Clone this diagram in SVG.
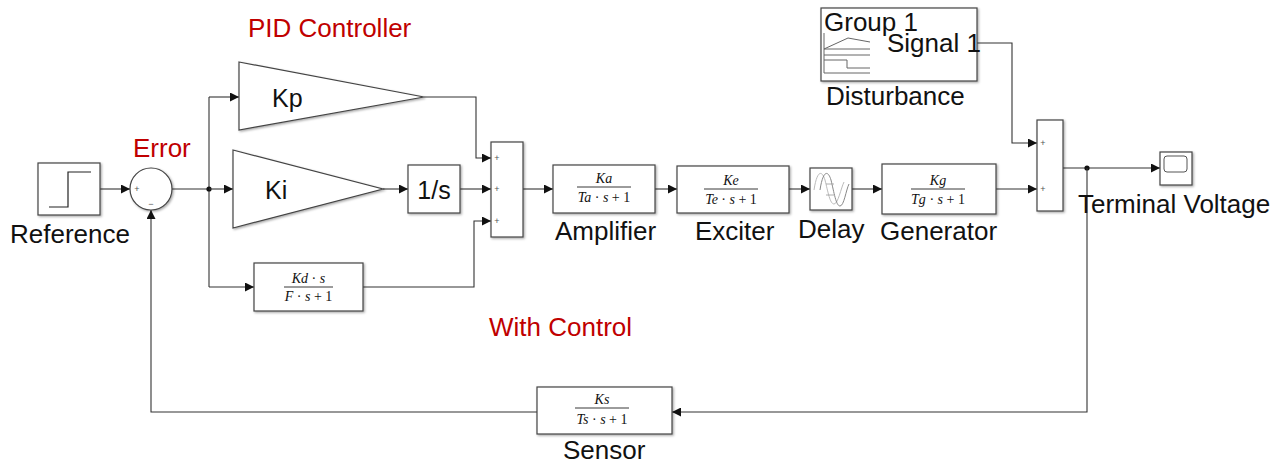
<svg xmlns="http://www.w3.org/2000/svg" width="1282" height="465" viewBox="0 0 1282 465">
<defs>
<marker id="ah" viewBox="0 0 10 10" refX="10" refY="5" markerWidth="9" markerHeight="9" markerUnits="userSpaceOnUse" orient="auto">
<path d="M0,0 L10,5 L0,10 z" fill="#111"/>
</marker>
<filter id="sh" x="-10%" y="-10%" width="130%" height="130%">
<feDropShadow dx="1.2" dy="1.2" stdDeviation="0.8" flood-color="#000" flood-opacity="0.35"/>
</filter>
<style>
.blk{fill:#fff;stroke:#444;stroke-width:1.2;filter:url(#sh)}
.wire{fill:none;stroke:#333;stroke-width:1.1}
.lbl{font-family:"Liberation Sans",Arial,sans-serif;font-size:26px;fill:#111}
.red{font-family:"Liberation Sans",Arial,sans-serif;font-size:26px;fill:#c00000}
.gain{font-family:"Liberation Sans",Arial,sans-serif;font-size:25px;fill:#111}
.frac{font-family:"Liberation Serif","Times New Roman",serif;font-size:14px;font-style:italic;fill:#111;text-anchor:middle}
.up{font-style:normal}
.fl{stroke:#222;stroke-width:0.9}
.sgn{font-family:"Liberation Sans",Arial,sans-serif;font-size:9px;fill:#555;text-anchor:middle}
.ic{fill:none;stroke:#666;stroke-width:1}
</style>
</defs>
<rect width="1282" height="465" fill="#fff"/>

<g id="connectors">
<path class="wire" d="M100,189 H130" marker-end="url(#ah)"/>
<path class="wire" d="M172,189 H209"/>
<path class="wire" d="M209,97 V287"/>
<circle cx="209" cy="189" r="2.6" fill="#111"/>
<path class="wire" d="M209,97 H239" marker-end="url(#ah)"/>
<path class="wire" d="M209,189 H233" marker-end="url(#ah)"/>
<path class="wire" d="M209,287 H254" marker-end="url(#ah)"/>
<path class="wire" d="M424,97 H476 V158 H491" marker-end="url(#ah)"/>
<path class="wire" d="M383,189 H408" marker-end="url(#ah)"/>
<path class="wire" d="M460,189 H491" marker-end="url(#ah)"/>
<path class="wire" d="M363,287 H474 V221 H491" marker-end="url(#ah)"/>
<path class="wire" d="M523,189 H553" marker-end="url(#ah)"/>
<path class="wire" d="M655,189 H677" marker-end="url(#ah)"/>
<path class="wire" d="M789,189 H810" marker-end="url(#ah)"/>
<path class="wire" d="M852,189 H882" marker-end="url(#ah)"/>
<path class="wire" d="M996,189 H1037" marker-end="url(#ah)"/>
<path class="wire" d="M977,43 H1012 V143 H1037" marker-end="url(#ah)"/>
<path class="wire" d="M1063,168 H1160" marker-end="url(#ah)"/>
<circle cx="1087" cy="168" r="2.6" fill="#111"/>
<path class="wire" d="M1087,168 V412 H672" marker-end="url(#ah)"/>
<path class="wire" d="M537,412 H151 V210" marker-end="url(#ah)"/>
</g>

<g id="reference">
<rect class="blk" x="38" y="163" width="62" height="52"/>
<path d="M49,207 H68 V172 H91" fill="none" stroke="#222" stroke-width="1.2"/>
<text class="lbl" x="10" y="243">Reference</text>
</g>

<g id="error-sum">
<circle class="blk" cx="151" cy="189" r="21"/>
<text class="sgn" x="137" y="192">+</text>
<text class="sgn" x="151" y="207">−</text>
<text class="red" x="133" y="157">Error</text>
</g>

<text class="red" x="248" y="37">PID Controller</text>

<g id="kp">
<polygon class="blk" points="239,62 424,97 239,130"/>
<text class="gain" x="272" y="107">Kp</text>
</g>

<g id="ki">
<polygon class="blk" points="233,150 383,189 233,228"/>
<text class="gain" x="265" y="199">Ki</text>
</g>

<g id="integrator">
<rect class="blk" x="408" y="165" width="52" height="48"/>
<text class="gain" x="434" y="199" text-anchor="middle">1/s</text>
</g>

<g id="kd">
<rect class="blk" x="254" y="263" width="109" height="48"/>
<text class="frac" x="308.5" y="283">Kd <tspan class="up">·</tspan> s</text>
<line class="fl" x1="284" y1="287" x2="333" y2="287"/>
<text class="frac" x="308.5" y="301">F <tspan class="up">·</tspan> s <tspan class="up">+ 1</tspan></text>
</g>

<g id="pid-sum">
<rect class="blk" x="491" y="142" width="32" height="95"/>
<text class="sgn" x="497" y="161">+</text>
<text class="sgn" x="497" y="192">+</text>
<text class="sgn" x="497" y="224">+</text>
</g>

<g id="amplifier">
<rect class="blk" x="553" y="165" width="102" height="48"/>
<text class="frac" x="604" y="183">Ka</text>
<line class="fl" x1="577" y1="187" x2="631" y2="187"/>
<text class="frac" x="604" y="202">Ta <tspan class="up">·</tspan> s <tspan class="up">+ 1</tspan></text>
<text class="lbl" x="555" y="240">Amplifier</text>
</g>

<g id="exciter">
<rect class="blk" x="677" y="166" width="112" height="47"/>
<text class="frac" x="731" y="185">Ke</text>
<line class="fl" x1="704" y1="189" x2="758" y2="189"/>
<text class="frac" x="731" y="204">Te <tspan class="up">·</tspan> s <tspan class="up">+ 1</tspan></text>
<text class="lbl" x="695" y="240">Exciter</text>
</g>

<g id="delay">
<rect class="blk" x="810" y="168" width="42" height="42"/>
<path d="M814,190 C817,170 822,170 825,180 C828,192 830,204 834,204 C838,204 841,188 844,182" fill="none" stroke="#bbb" stroke-width="1"/>
<path d="M820,190 C823,170 828,170 831,180 C834,192 836,206 840,206 C844,206 846,190 849,184" fill="none" stroke="#888" stroke-width="1"/>
<path d="M826,184 H834 M826,195 H834" fill="none" stroke="#999" stroke-width="0.8"/>
<text class="lbl" x="798" y="238">Delay</text>
</g>

<g id="generator">
<rect class="blk" x="882" y="164" width="114" height="50"/>
<text class="frac" x="938" y="185">Kg</text>
<line class="fl" x1="911" y1="189" x2="965" y2="189"/>
<text class="frac" x="938" y="204">Tg <tspan class="up">·</tspan> s <tspan class="up">+ 1</tspan></text>
<text class="lbl" x="880" y="240">Generator</text>
</g>

<g id="disturbance">
<rect class="blk" x="821" y="8" width="156" height="73"/>
<path class="ic" d="M824,33 V73 M824,49 L848,38 L870,42 M824,49 H870 M824,55 H870 M824,60 H847 V68 H870 M824,73 H870"/>
<text class="lbl" x="824" y="31" font-size="24">Group 1</text>
<text class="lbl" x="887" y="52" font-size="23">Signal 1</text>
<text class="lbl" x="826" y="105">Disturbance</text>
</g>

<g id="output-sum">
<rect class="blk" x="1037" y="120" width="26" height="91"/>
<text class="sgn" x="1043" y="146">+</text>
<text class="sgn" x="1043" y="192">+</text>
</g>

<g id="scope">
<rect class="blk" x="1160" y="152" width="32" height="33"/>
<rect x="1164" y="156" width="23" height="16" rx="3" fill="#fff" stroke="#555" stroke-width="1"/>
<text class="lbl" x="1078" y="213" font-size="26.5">Terminal Voltage</text>
</g>

<g id="sensor">
<rect class="blk" x="537" y="387" width="135" height="47"/>
<text class="frac" x="602" y="404">Ks</text>
<line class="fl" x1="575" y1="408" x2="629" y2="408"/>
<text class="frac" x="602" y="424">Ts <tspan class="up">·</tspan> s <tspan class="up">+ 1</tspan></text>
<text class="lbl" x="563" y="459" font-size="25">Sensor</text>
</g>

<text class="red" x="489" y="336">With Control</text>
</svg>
